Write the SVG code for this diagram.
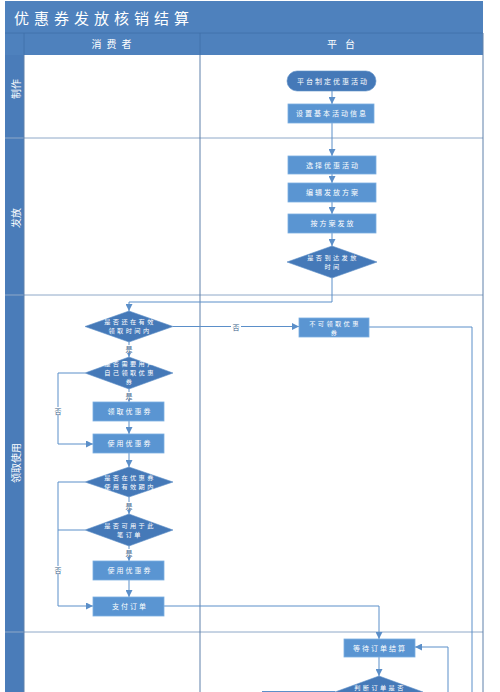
<svg xmlns="http://www.w3.org/2000/svg" width="500" height="692" viewBox="0 0 500 692">
<defs>
<style>
.hdr{fill:#4e81bd}
.bar{fill:#4a7cb9}
.box{fill:#5a95d2;stroke:#7aaee0;stroke-width:0.8}
.dia{fill:#4579b8;stroke:#5f90c8;stroke-width:0.6}
.nt{font-family:"Noto Sans CJK SC","Noto Sans",sans-serif;font-size:7px;fill:#fff;text-anchor:middle;letter-spacing:2px}
.mt{font-family:"Noto Sans CJK SC","Noto Sans",sans-serif;font-size:6.2px;fill:#fff;text-anchor:middle;letter-spacing:2.4px}
.wt{font-family:"Noto Sans CJK SC","Noto Sans",sans-serif;fill:#fff;text-anchor:middle}
.lbl{font-family:"Noto Sans CJK SC","Noto Sans",sans-serif;font-size:7px;fill:#3c5f8a;text-anchor:middle}
.lb{fill:#fff}
.c{fill:none;stroke:#5b8fc9;stroke-width:1}
.row{stroke:#8ea8c8;stroke-width:1}
.col{stroke:#5f80aa;stroke-width:1}
</style>
<marker id="ah" viewBox="0 0 10 10" refX="10" refY="5" markerWidth="7" markerHeight="7" markerUnits="userSpaceOnUse" orient="auto">
<path d="M0,0 L10,5 L0,10 z" fill="#5b8fc9"/>
</marker>
</defs>
<rect width="500" height="692" fill="#fff"/>
<g id="pool">
<rect class="hdr" x="5" y="1" width="478" height="32"/>
<text class="wt" x="14" y="24" style="font-size:15px;text-anchor:start;letter-spacing:5px">优惠券发放核销结算</text>
<rect class="hdr" x="5" y="33" width="478" height="22"/>
<line x1="5" y1="33" x2="483" y2="33" stroke="#3f6fa8" stroke-width="0.8"/>
<line x1="24" y1="33" x2="24" y2="55" stroke="#3f6fa8" stroke-width="0.8"/>
<line x1="200" y1="33" x2="200" y2="55" stroke="#3f6fa8" stroke-width="0.8"/>
<text class="wt" x="114" y="48" style="font-size:10px;letter-spacing:5px">消费者</text>
<text class="wt" x="345" y="48" style="font-size:10px;letter-spacing:8px">平台</text>
<rect class="bar" x="5" y="55" width="19" height="637"/>
<line class="row" x1="5" y1="138" x2="483" y2="138"/>
<line class="row" x1="5" y1="295" x2="483" y2="295"/>
<line class="row" x1="5" y1="632" x2="483" y2="632"/>
<line class="col" x1="200" y1="55" x2="200" y2="692"/>
<line class="col" x1="483" y1="33" x2="483" y2="692"/>
<line class="col" x1="24" y1="55" x2="24" y2="692" stroke-width="0.6"/>
<text class="wt" transform="translate(15,89) rotate(-90)" style="font-size:10px" dominant-baseline="central">制作</text>
<text class="wt" transform="translate(15,218) rotate(-90)" style="font-size:10px" dominant-baseline="central">发放</text>
<text class="wt" transform="translate(15,463) rotate(-90)" style="font-size:10px" dominant-baseline="central">领取使用</text>
</g>
<g id="connectors">
<path class="c" d="M332,91 V104" marker-end="url(#ah)"/>
<path class="c" d="M332,123 V156" marker-end="url(#ah)"/>
<path class="c" d="M332,174 V183" marker-end="url(#ah)"/>
<path class="c" d="M332,202 V214" marker-end="url(#ah)"/>
<path class="c" d="M332,233 V246" marker-end="url(#ah)"/>
<path class="c" d="M332,278 V302 H129 V311" marker-end="url(#ah)"/>
<path class="c" d="M173,326.5 H299" marker-end="url(#ah)"/>
<path class="c" d="M369,327 H472 V692"/>
<path class="c" d="M129,342 V357" marker-end="url(#ah)"/>
<path class="c" d="M129,389 V402" marker-end="url(#ah)"/>
<path class="c" d="M85,373 H58 V444 H93" marker-end="url(#ah)"/>
<path class="c" d="M129,421 V434" marker-end="url(#ah)"/>
<path class="c" d="M129,453 V467" marker-end="url(#ah)"/>
<path class="c" d="M85,482 H58 V606 H93" marker-end="url(#ah)"/>
<path class="c" d="M129,497 V514" marker-end="url(#ah)"/>
<path class="c" d="M85,530 H58"/>
<path class="c" d="M129,546 V561" marker-end="url(#ah)"/>
<path class="c" d="M129,580 V597" marker-end="url(#ah)"/>
<path class="c" d="M164,606 H379 V639" marker-end="url(#ah)"/>
<path class="c" d="M379,657 V676" marker-end="url(#ah)"/>
<path class="c" d="M448,692 V647 H415" marker-end="url(#ah)"/>
<path class="c" d="M335,691.5 H262"/>
<rect class="lb" x="231" y="322" width="10" height="9"/>
<text class="lbl" x="236" y="329.5">否</text>
<rect class="lb" x="124" y="345" width="10" height="8"/>
<text class="lbl" x="129" y="352">是</text>
<rect class="lb" x="124" y="392" width="10" height="8"/>
<text class="lbl" x="129" y="399">是</text>
<rect class="lb" x="53" y="407" width="10" height="8"/>
<text class="lbl" x="58" y="414">否</text>
<rect class="lb" x="124" y="502" width="10" height="8"/>
<text class="lbl" x="129" y="509">是</text>
<rect class="lb" x="124" y="549" width="10" height="8"/>
<text class="lbl" x="129" y="556">是</text>
<rect class="lb" x="53" y="566" width="10" height="8"/>
<text class="lbl" x="58" y="573">否</text>
</g>
<g id="n1"><rect class="dia" x="287" y="71" width="89" height="20" rx="10"/><text class="nt" x="333" y="84">平台制定优惠活动</text></g>
<g id="n2"><rect class="box" x="288" y="104" width="86" height="19"/><text class="nt" x="332" y="116">设置基本活动信息</text></g>
<g id="n3"><rect class="box" x="288" y="156" width="88" height="18"/><text class="nt" x="333" y="168">选择优惠活动</text></g>
<g id="n4"><rect class="box" x="288" y="183" width="88" height="19"/><text class="nt" x="333" y="195">编辑发放方案</text></g>
<g id="n5"><rect class="box" x="288" y="214" width="88" height="19"/><text class="nt" x="333" y="226">按方案发放</text></g>
<g id="n6"><path class="dia" d="M332,246 L377,262 L332,278 L287,262 Z"/><text class="mt" x="333" y="259.5">是否到达发放</text><text class="mt" x="333" y="268.5">时间</text></g>
<g id="n7"><path class="dia" d="M129,311 L173,326.5 L129,342 L85,326.5 Z"/><text class="mt" x="130" y="324">是否还在有效</text><text class="mt" x="130" y="333">领取时间内</text></g>
<g id="n8"><rect class="box" x="299" y="318" width="70" height="19"/><text class="mt" x="335" y="325.5">不可领取优惠</text><text class="mt" x="335" y="334.5">券</text></g>
<g id="n9"><path class="dia" d="M129,357 L173,373 L129,389 L85,373 Z"/><text class="mt" x="130" y="366">是否需要用户</text><text class="mt" x="130" y="375">自己领取优惠</text><text class="mt" x="130" y="384">券</text></g>
<g id="n10"><rect class="box" x="93" y="402" width="71" height="19"/><text class="nt" x="130" y="414">领取优惠券</text></g>
<g id="n11"><rect class="box" x="93" y="434" width="71" height="19"/><text class="nt" x="130" y="446">使用优惠券</text></g>
<g id="n12"><path class="dia" d="M129,467 L173,482 L129,497 L85,482 Z"/><text class="mt" x="130" y="480">是否在优惠券</text><text class="mt" x="130" y="489">使用有效期内</text></g>
<g id="n13"><path class="dia" d="M129,514 L173,530 L129,546 L85,530 Z"/><text class="mt" x="130" y="528">是否可用于此</text><text class="mt" x="130" y="537">笔订单</text></g>
<g id="n14"><rect class="box" x="93" y="561" width="71" height="19"/><text class="nt" x="130" y="573">使用优惠券</text></g>
<g id="n15"><rect class="box" x="93" y="597" width="71" height="19"/><text class="nt" x="130" y="609">支付订单</text></g>
<g id="n16"><rect class="box" x="344" y="639" width="71" height="18"/><text class="nt" x="380" y="651">等待订单结算</text></g>
<g id="n17"><path class="dia" d="M379,676 L423,692 L379,708 L335,692 Z"/><text class="mt" x="380" y="690">判断订单是否</text></g>
</svg>
